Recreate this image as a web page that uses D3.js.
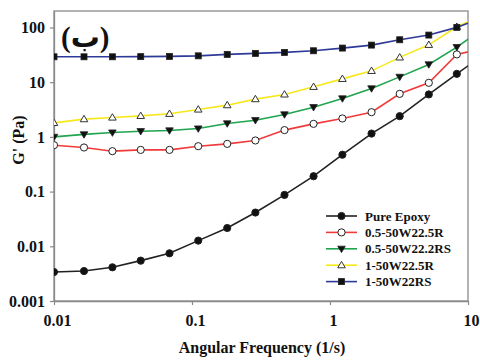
<!DOCTYPE html>
<html>
<head>
<meta charset="utf-8">
<script src="https://cdn.jsdelivr.net/npm/d3@7"></script>
<style>
  body { margin: 0; background: #fff; }
  text { font-family: "Liberation Serif", "Times New Roman", serif; font-weight: bold; }
</style>
</head>
<body>
<div id="chart"></div>
<script>
// angular frequency (1/s); last point lies past the axis and is clipped
const freq = [0.01, 0.0165, 0.0265, 0.0425, 0.0687, 0.111, 0.18, 0.288, 0.468, 0.76, 1.23, 2.0, 3.2, 5.2, 8.3, 13.4];

const pureEpoxy = [0.00339, 0.00353, 0.00413, 0.00547, 0.00745, 0.0127, 0.0216, 0.0414, 0.0869, 0.191, 0.472, 1.15, 2.39, 5.97, 14.2, 33.6];
const w225R05 = [0.705, 0.64, 0.548, 0.578, 0.578, 0.676, 0.745, 0.86, 1.33, 1.73, 2.17, 2.83, 6.12, 9.73, 32.2, 42.5];
const w222RS05 = [1.0, 1.11, 1.2, 1.27, 1.31, 1.42, 1.76, 2.02, 2.57, 3.49, 5.04, 7.69, 12.5, 21.1, 43.8, 103];
const w225R1 = [1.8, 2.11, 2.26, 2.42, 2.64, 3.17, 3.8, 4.9, 5.97, 8.22, 11.5, 16.1, 28.4, 48.2, 103, 176];
const w22RS1 = [29.1, 29.1, 29.1, 29.3, 29.6, 30.3, 32.2, 33.6, 35.0, 37.5, 42, 47.6, 59.6, 72.6, 100.4, 159];

const seriesNames = ["Pure Epoxy", "0.5-50W22.5R", "0.5-50W22.2RS", "1-50W22.5R", "1-50W22RS"];
const seriesValues = [pureEpoxy, w225R05, w222RS05, w225R1, w22RS1];
const seriesColors = ["#222222", "#f03a3a", "#1ea54e", "#f7e81c", "#2e3a98"];
const seriesMarkers = ["circle", "circleOpen", "triDown", "triUp", "square"];

const xTicks = [0.01, 0.1, 1, 10];
const xTickLabels = ["0.01", "0.1", "1", "10"];
const yTicks = [0.001, 0.01, 0.1, 1, 10, 100];
const yTickLabels = ["0.001", "0.01", "0.1", "1", "10", "100"];

const width = 480, height = 360;
const margin = { top: 11, right: 12, bottom: 59, left: 54 };
const iw = width - margin.left - margin.right;
const ih = height - margin.top - margin.bottom;

const xScale = d3.scaleLog().domain([0.01, 10]).range([0, iw]);
const yScale = d3.scaleLog().domain([0.001, 200]).range([ih, 0]);

const svg = d3.select("#chart").append("svg")
  .attr("width", width).attr("height", height);

const g = svg.append("g")
  .attr("transform", "translate(" + margin.left + "," + margin.top + ")");

g.append("clipPath").attr("id", "plotClip")
  .append("rect").attr("width", iw).attr("height", ih);

// frame (top/right)
g.append("rect")
  .attr("width", iw).attr("height", ih)
  .attr("fill", "none").attr("stroke", "#8a8a8a").attr("stroke-width", 1.3);

// axes
const xAxis = d3.axisBottom(xScale).tickValues(xTicks)
  .tickFormat((d, i) => xTickLabels[i]).tickSizeInner(4).tickSizeOuter(0).tickPadding(10);
const yAxis = d3.axisLeft(yScale).tickValues(yTicks)
  .tickFormat((d, i) => yTickLabels[i]).tickSizeInner(4).tickSizeOuter(0).tickPadding(5);

const gx = g.append("g").attr("transform", "translate(0," + ih + ")").call(xAxis);
const gy = g.append("g").call(yAxis);
[gx, gy].forEach(a => {
  a.select(".domain").attr("stroke", "#8a8a8a").attr("stroke-width", 1.3);
  a.selectAll(".tick line").attr("stroke", "#8a8a8a").attr("stroke-width", 1.2);
  a.selectAll(".tick text").attr("fill", "#111").style("font-size", "16px")
    .style("font-family", "'Liberation Serif', serif").style("font-weight", "bold");
});
gx.selectAll(".tick text").attr("dx", 3);

// axis titles
svg.append("text")
  .attr("x", 262).attr("y", 353)
  .attr("text-anchor", "middle").attr("fill", "#111")
  .style("font-size", "16px")
  .text("Angular Frequency (1/s)");

svg.append("text")
  .attr("transform", "translate(24,140) rotate(-90)")
  .attr("text-anchor", "middle").attr("fill", "#111")
  .style("font-size", "16px")
  .text("G' (Pa)");

// panel label
svg.append("text")
  .attr("x", 61).attr("y", 47)
  .attr("fill", "#111")
  .style("font-size", "29px")
  .style("font-family", "'Liberation Serif', 'DejaVu Serif', 'DejaVu Sans', serif")
  .text("(ب)");

const line = d3.line()
  .x(d => xScale(d[0]))
  .y(d => yScale(d[1]));

function drawMarker(sel, type, color) {
  if (type === "circle" || type === "circleOpen") {
    sel.append("circle").attr("r", 3.6)
      .attr("fill", type === "circle" ? "#111" : "#fff")
      .attr("stroke", "#222").attr("stroke-width", 1);
  } else if (type === "square") {
    sel.append("rect").attr("x", -3).attr("y", -3).attr("width", 6).attr("height", 6)
      .attr("fill", "#111").attr("stroke", "#222").attr("stroke-width", 0.8);
  } else if (type === "triDown") {
    sel.append("path").attr("d", "M-3.8,-2.6L3.8,-2.6L0,3.8Z")
      .attr("fill", "#111").attr("stroke", "#222").attr("stroke-width", 0.8);
  } else if (type === "triUp") {
    sel.append("path").attr("d", "M-3.8,2.6L3.8,2.6L0,-3.8Z")
      .attr("fill", "#fff").attr("stroke", "#333").attr("stroke-width", 1);
  }
}

const plot = g.append("g").attr("clip-path", "url(#plotClip)");

seriesValues.forEach((vals, i) => {
  const pts = freq.map((f, j) => [f, vals[j]]);
  plot.append("path")
    .datum(pts)
    .attr("fill", "none")
    .attr("stroke", seriesColors[i])
    .attr("stroke-width", 1.6)
    .attr("d", line);
  pts.forEach(p => {
    const m = plot.append("g")
      .attr("transform", "translate(" + xScale(p[0]) + "," + yScale(p[1]) + ")");
    drawMarker(m, seriesMarkers[i], seriesColors[i]);
  });
});

// legend
const legend = svg.append("g").attr("transform", "translate(326,216)");
seriesNames.forEach((name, i) => {
  const row = legend.append("g").attr("transform", "translate(0," + i * 16.4 + ")");
  row.append("line").attr("x1", 0).attr("x2", 31).attr("y1", 0).attr("y2", 0)
    .attr("stroke", seriesColors[i]).attr("stroke-width", 1.6);
  const m = row.append("g").attr("transform", "translate(15.5,0)");
  drawMarker(m, seriesMarkers[i], seriesColors[i]);
  row.append("text").attr("x", 39).attr("y", 4.5)
    .attr("fill", "#111").style("font-size", "13px")
    .text(name);
});
</script>
</body>
</html>
